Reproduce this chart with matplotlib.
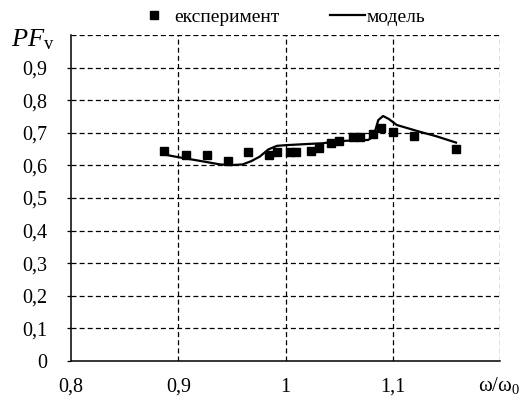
import matplotlib
matplotlib.use('Agg')
import matplotlib.pyplot as plt
import numpy as np

exp_x = [0.887, 0.907, 0.9265, 0.946, 0.965, 0.985, 0.992, 1.004, 1.010, 1.0235,
         1.0315, 1.042, 1.050, 1.0626, 1.0695, 1.0813, 1.089, 1.1005, 1.120, 1.159]
exp_y = [0.644, 0.631, 0.633, 0.614, 0.640, 0.633, 0.640, 0.640, 0.640, 0.644,
         0.652, 0.668, 0.676, 0.686, 0.686, 0.696, 0.714, 0.702, 0.691, 0.651]

# model curve
mod_x = [0.8846, 0.897, 0.920, 0.939, 0.950, 0.960, 0.968, 0.976, 0.984, 0.992,
         1.000, 1.0166, 1.035, 1.0477, 1.065, 1.077, 1.082, 1.0865, 1.091, 1.0965,
         1.1037, 1.1254, 1.140, 1.159]
mod_y = [0.635, 0.627, 0.614, 0.603, 0.601, 0.603, 0.613, 0.627, 0.649, 0.660,
         0.662, 0.665, 0.668, 0.674, 0.677, 0.678, 0.688, 0.739, 0.7515, 0.742,
         0.724, 0.703, 0.690, 0.670]

xticks = [0.8, 0.9, 1.0, 1.1]
xtick_lbl = ['0,8', '0,9', '1', '1,1']
yticks = [0, 0.1, 0.2, 0.3, 0.4, 0.5, 0.6, 0.7, 0.8, 0.9]
ytick_lbl = ['0', '0,1', '0,2', '0,3', '0,4', '0,5', '0,6', '0,7', '0,8', '0,9']

plt.rcParams['font.family'] = ['Liberation Serif', 'DejaVu Serif']
plt.rcParams['mathtext.fontset'] = 'custom'
plt.rcParams['mathtext.rm'] = 'Liberation Serif'
plt.rcParams['mathtext.it'] = 'Liberation Serif:italic'

fig = plt.figure(figsize=(5.21, 4.05), dpi=100)
ax = fig.add_axes([0.1363, 0.1086, 0.8234, 0.805])

grid_style = dict(color='k', lw=0.9, ls=(0, (4, 2.5)), zorder=1)
for v in [0.1, 0.2, 0.3, 0.4, 0.5, 0.6, 0.7, 0.8, 0.9, 1.0]:
    ax.axhline(v, **grid_style)
for v in [0.9, 1.0, 1.1, 1.2]:
    ax.axvline(v, **grid_style)

ax.plot(exp_x, exp_y, 's', color='k', ms=5.5, ls='none', label='експеримент', zorder=3)
ax.plot(mod_x, mod_y, '-', color='k', lw=1.6, label='модель', zorder=2)

ax.set_xlim(0.8, 1.2)
ax.set_ylim(0, 1.0)
ax.set_xticks(xticks)
ax.set_xticklabels(xtick_lbl, fontsize=14.5)
ax.set_yticks(yticks)
ax.set_yticklabels(ytick_lbl, fontsize=14.5)
ax.tick_params(axis='x', length=0, pad=12)
ax.tick_params(axis='y', length=3, width=0.9, pad=14)
ax.spines['top'].set_visible(False)
ax.spines['right'].set_visible(False)
ax.spines['left'].set_linewidth(1.1)
ax.spines['bottom'].set_linewidth(1.1)

ax.legend(loc='center', bbox_to_anchor=(0.49, 1.055), ncol=2, frameon=False,
          fontsize=14, columnspacing=2.6, handlelength=1.8, handletextpad=0.1,
          borderaxespad=0.0, borderpad=0.0)

fig.text(0.022, 0.885, r'$PF_{\mathrm{v}}$', fontsize=19)
fig.text(0.999, 0.035, r'$\mathrm{\omega/\omega_0}$', fontsize=15, ha='right')

fig.savefig('out.png', dpi=100)
